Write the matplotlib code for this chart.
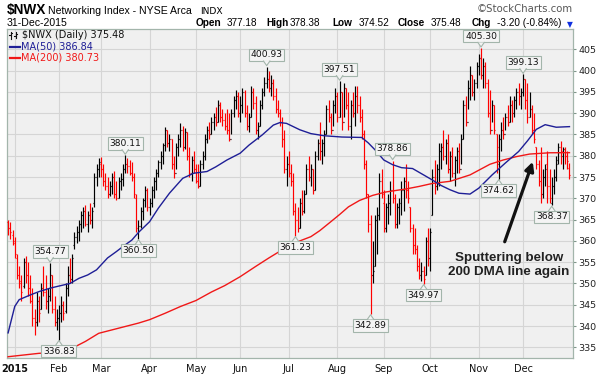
import numpy as np
import matplotlib
matplotlib.use("Agg")
import matplotlib.pyplot as plt
from matplotlib.collections import LineCollection
from matplotlib.lines import Line2D
from matplotlib.patches import Polygon

# ---------------- data (trading-day index, 0 = 2-Jan-2015; -3..-1 = end of Dec 2014) ----------------
opens = (
    [364.5, 363, 361.5]
    + [360, 356, 352, 350.5, 349.5, 355, 352, 349, 346, 342, 341, 346, 344, 349, 348, 346, 347, 352, 344, 341]
    + [342, 343, 345, 343.5, 349, 352, 351, 359, 361, 362, 364, 366, 367, 364, 366, 365, 369, 375, 377]
    + [378, 377, 374, 373, 371, 373, 375, 371, 370, 374, 374.5, 377, 378, 377.5, 376, 375, 370, 363, 363.5, 367, 369.5, 372]
    + [368, 369, 372, 374, 376, 378.5, 380, 382.5, 386, 383, 384, 378, 376, 382, 384, 386, 382, 385.5, 380, 376, 379]
    + [377, 374, 373, 378, 380, 384, 386, 385, 388, 389, 388, 392, 389, 388.5, 387, 386, 384, 390, 393, 394]
    + [390, 392, 395, 390, 387, 389, 395, 392.5, 386, 387, 392, 395, 397, 398, 396, 397, 394, 391, 390, 388, 384, 377]
    + [378, 376, 374, 367, 365, 363, 369, 367, 371, 377, 375, 377, 372, 380, 383, 381, 383, 385, 391, 389, 386, 392]
    + [394, 389, 395, 388, 396, 392, 387, 392, 390, 394, 392, 389, 385, 378, 371, 364, 352, 354, 365, 366, 374]
    + [369, 363, 368, 369, 372, 370, 364, 368, 369, 372, 374, 372, 368, 363, 359, 358, 354, 352, 353, 352, 360]
    + [356, 366, 375, 373, 377, 381, 382, 380, 383, 377, 380, 376, 379, 381, 377, 384, 392, 388, 396, 399, 395, 397]
    + [401, 403, 399, 401, 397, 390, 386, 392, 385, 378, 384, 386, 385, 389, 388, 392, 390, 393, 395, 394]
    + [395, 398, 393, 389, 391, 386, 382, 378, 374, 371, 375, 378, 373, 369, 373, 375, 379, 382, 380, 381.5, 380, 377.18]
)
highs = (
    [365, 364.5, 362.5]
    + [361, 357, 354, 352, 356, 356.5, 355, 352, 349, 344, 348, 347, 350, 354, 352, 349, 354.77, 352, 347, 344]
    + [345, 347, 346, 350, 354, 356, 357, 362, 363.5, 365, 367, 368, 368.5, 367, 369, 368, 376, 378, 379.5]
    + [379.8, 378, 376, 375, 374, 376, 376.5, 374, 375, 376, 378, 380.11, 379.5, 379, 378.5, 376, 371, 365, 368, 370, 373, 372.5]
    + [370, 373, 375, 377, 379, 381, 383, 386.8, 386, 385, 384, 380, 383, 385, 387.6, 387, 386.5, 385.5, 382, 380, 381]
    + [378, 378, 379, 381, 385, 387, 388, 389, 390, 391.5, 393, 392.7, 391, 390, 391, 390, 391, 394, 395.4, 395]
    + [394, 396, 395.5, 392, 390, 396.5, 396, 394, 388, 393, 396, 398.5, 400.93, 400, 399, 398, 396, 393, 391, 389, 386, 380]
    + [381, 378, 376, 369, 368, 370, 372, 372, 378, 380, 378, 377, 381, 384, 388, 384, 386, 392, 393, 390, 393, 396]
    + [395, 397.51, 395, 397, 396, 395, 393, 395, 396.5, 396.5, 394, 391, 386, 379, 371, 366, 360, 366, 368, 376, 377]
    + [372, 369, 371, 374, 378.86, 371, 369, 370, 374, 375, 378, 374, 368, 364, 363, 359, 356, 355, 354, 361, 363]
    + [363, 377, 379, 378, 383, 383, 386, 384, 385, 381, 382, 380, 382, 383, 385, 393, 394, 397.8, 401, 399, 398, 402]
    + [404, 405.30, 403, 402, 398, 395.4, 393, 392, 385, 385, 388, 389, 390, 392, 394, 393, 394, 396, 397, 396]
    + [399.13, 398, 397, 395, 392, 390, 382, 379, 382, 377, 378, 381, 377, 375, 377, 380, 383, 383.5, 382, 382, 381, 378.38]
)
lows = (
    [361.5, 360.5, 359]
    + [356, 351, 349, 346, 349, 350, 347, 345.5, 340, 338, 340, 341, 344, 347, 344, 343, 346, 343, 340, 339]
    + [336.83, 341, 341.5, 343, 347, 350, 350, 358, 359.5, 360, 362, 363, 363.5, 362, 364, 363, 368, 373, 375]
    + [375, 373, 372, 370, 370.5, 371, 370, 369.5, 370, 372, 373, 376, 376, 375.5, 374, 370, 362, 360.50, 363, 365, 368, 367]
    + [366, 368, 370, 372, 375, 377, 378, 381, 382, 381, 377, 374.7, 377, 380, 382, 381, 381.5, 379, 375, 374, 376]
    + [373.5, 372.4, 373, 377, 379, 383, 384, 385, 386, 387, 388, 388, 387, 386, 385, 383.5, 385, 389, 391, 389]
    + [388, 390, 389, 386, 385.5, 389, 391, 385, 384, 387, 391, 394, 396, 395, 394, 393, 390, 389, 387, 382, 376, 373]
    + [375, 373, 366, 361.23, 362, 363, 366, 366.5, 371, 374, 373, 371, 372, 379, 379, 378, 380, 385, 388, 385, 387, 390]
    + [388, 389, 386, 389, 391, 386, 384, 389, 387, 390, 388, 384, 377, 370, 362, 342.89, 350, 354, 357, 365, 370]
    + [362, 362, 364, 366, 369, 363, 363, 364, 366, 367, 370, 369, 362, 357, 357, 353, 351, 350.5, 349.97, 352, 354]
    + [353, 366, 371, 372, 373, 377, 379, 378, 376, 374, 375, 373, 376, 376, 378, 384, 387, 391, 393, 394, 393, 396]
    + [399, 398, 396, 396, 389, 385, 388, 385, 376, 374.62, 381, 384, 386, 387, 388, 388, 389, 391, 392, 391]
    + [394, 391, 387.6, 389, 385, 383, 377, 372.8, 368.8, 370, 373, 369, 369, 368.37, 371, 374, 378, 378, 377, 378, 377, 374.52]
)
closes = (
    [363, 362, 359.5]
    + [357, 352, 350, 348, 355, 352, 349, 346, 342, 341, 346, 343, 349, 348, 346, 347, 352, 344, 341, 342]
    + [343, 345, 343, 349, 352, 351, 356, 361, 362, 364, 366, 367, 364, 366, 365, 367, 375, 377, 378.5]
    + [377, 374, 373, 371, 373, 375, 371, 370, 374, 374.5, 377, 378, 377.5, 376, 375, 371, 363, 363.5, 367, 369.5, 372, 368]
    + [369, 372, 374, 376, 378.5, 380, 382.5, 386, 383, 384, 378, 376, 382, 384, 386, 382, 385.5, 380, 376, 379, 377]
    + [374, 373, 378, 380, 384, 386, 385, 388, 389, 388, 392, 389, 388.5, 387, 386, 384, 390, 393, 394, 390]
    + [392, 395, 390, 387, 389, 395, 392.5, 386, 387, 392, 395, 397, 398, 396, 397, 394, 391, 390, 388, 384, 377, 378]
    + [376, 374, 367, 365, 363, 369, 367, 371, 377, 375, 377, 372, 380, 383, 381, 383, 385, 391, 389, 386, 392, 394]
    + [389, 395, 388, 396, 392, 387, 392, 390, 394, 392, 389, 385, 378, 371, 364, 352, 353, 365, 366, 374, 371]
    + [363, 368, 369, 372, 370, 364, 368, 369, 372, 374, 372, 370, 363, 359, 358, 354, 352, 353, 351, 360, 356]
    + [362, 375, 373, 377, 381, 382, 380, 383, 377, 380, 376, 379, 381, 377, 384, 392, 388, 396, 399, 395, 397, 401]
    + [403, 399, 401, 397, 390, 386, 392, 386, 382, 384, 386, 385, 389, 388, 392, 390, 393, 395, 394, 395]
    + [398, 393, 389, 391, 386, 384, 378, 374, 371, 375, 377, 373, 370, 373, 375, 378, 382, 381, 381.5, 380, 378.68, 375.48]
)

ma50_idx = [-3, 0, 2, 7, 11, 16, 20, 25, 29, 33, 37, 42, 46, 49, 53, 56, 61, 65, 70, 76,
            81, 87, 91, 96, 102, 106, 112, 117, 120, 123, 129, 134, 140, 148, 157, 160, 163, 167, 171, 175,
            180, 184, 189, 193, 197, 201, 206, 210, 216, 222, 228, 232, 236, 240, 245, 251]
ma50_val = [338.4, 344.6, 346.2, 347.3, 348.1, 348.9, 349.4, 350.0, 351.2, 352.0, 353.2, 356.0, 357.5, 358.7,
            360.2, 362.0, 364.5, 367.7, 371.2, 374.7, 375.9, 376.3, 377.4, 379.0, 380.6, 382.5, 384.9, 387.2,
            387.8, 387.6, 386.1, 385.2, 384.7, 384.4, 384.3, 383.0, 381.4, 379.0, 377.9, 377.2, 377.0, 375.8,
            374.3, 373.0, 372.0, 371.2, 371.0, 372.4, 375.5, 378.3, 381.0, 383.5, 386.2, 387.3, 386.7, 386.84]
ma200_idx = [-3, 11, 20, 26, 32, 38, 44, 50, 56, 61, 68, 75, 82, 89, 95, 102, 109, 115, 121, 125,
             129, 134, 138, 143, 147, 151, 156, 162, 168, 177, 183, 189, 197, 206, 215, 221, 227, 233, 242, 251]
ma200_val = [332.8, 333.6, 333.8, 334.8, 336.4, 338.3, 339.1, 339.9, 340.7, 341.5, 343.0, 344.6, 346.0, 348.0,
             349.5, 351.6, 354.0, 356.0, 357.9, 359.0, 360.0, 361.0, 362.4, 364.5, 366.2, 368.0, 369.5, 370.7,
             371.5, 372.2, 372.8, 373.5, 374.0, 375.5, 378.0, 379.0, 379.8, 380.4, 380.7, 380.73]

month_idx = [0, 20, 39, 61, 82, 102, 124, 146, 167, 188, 210, 230]
month_labels = ["2015", "Feb", "Mar", "Apr", "May", "Jun", "Jul", "Aug", "Sep", "Oct", "Nov", "Dec"]
y_ticks = list(range(335, 410, 5))

# highlighted extremes (trading-day index, which end of the bar)
mark_idx = [16, 20, 50, 56, 114, 127, 147, 161, 171, 185, 211, 219, 230, 243]
mark_side = ["high", "low", "high", "low", "high", "low", "high", "low", "high", "low", "high", "low", "high", "low"]

title_sym = "$NWX"
title_name = "Networking Index - NYSE Arca"
title_exch = "INDX"
date_text = "31-Dec-2015"
quote_parts = [("Open", True, 196), ("377.18", False, 227), ("High", True, 266), ("378.38", False, 289.5),
               ("Low", True, 332), ("374.52", False, 358.5), ("Close", True, 398), ("375.48", False, 430.5),
               ("Chg", True, 472), ("-3.20 (-0.84%)", False, 497)]
legend_main = "$NWX (Daily) 375.48"
legend_ma50 = "MA(50) 386.84"
legend_ma200 = "MA(200) 380.73"
note_text = "Sputtering below\n200 DMA line again"

# ---------------- figure ----------------
W, H = 600, 375
fig = plt.figure(figsize=(6, 3.75), dpi=100)
fig.patch.set_facecolor("white")
L_px, R_px, T_px, B_px = 7, 573, 29.3, 358
ax = fig.add_axes([L_px / W, 1 - B_px / H, (R_px - L_px) / W, (B_px - T_px) / H])
ax.set_facecolor("#F0F0F0")
xmin, xmax = -3.5, 252.6
ymin, ymax = 332.5, 409.7
ax.set_xlim(xmin, xmax)
ax.set_ylim(ymin, ymax)

px_x = (R_px - L_px) / (xmax - xmin)   # pixels per trading day
px_y = (B_px - T_px) / (ymax - ymin)   # pixels per price unit

ax.set_yticks(y_ticks)
ax.yaxis.tick_right()
ax.set_xticks(month_idx)
ax.set_xticklabels(month_labels)
ax.grid(True, color="#D5D5D5", lw=0.8, zorder=0)
ax.set_axisbelow(True)
ax.tick_params(axis="x", length=0, pad=4, labelsize=7, labelcolor="#111111")
ax.tick_params(axis="y", direction="out", length=2.5, width=0.8, color="#7F958A",
               pad=1.5, labelsize=6.8, labelcolor="#222222")
for lab in ax.get_xticklabels():
    lab.set_family("DejaVu Sans")
ax.get_xticklabels()[0].set_fontweight("bold")
for sp in ax.spines.values():
    sp.set_color("#A3B5AB")
    sp.set_linewidth(0.9)

n = len(closes)
idx = np.arange(n) - 3

# OHLC bars
segs, cols = [], []
tick = 0.45
for i in range(n):
    prev = closes[i - 1] if i > 0 else opens[i]
    c = "#FF0000" if closes[i] < prev else "#000000"
    x = idx[i]
    segs.append([(x, lows[i]), (x, highs[i])])
    segs.append([(x - tick, opens[i]), (x, opens[i])])
    segs.append([(x, closes[i]), (x + tick, closes[i])])
    cols += [c, c, c]
ax.add_collection(LineCollection(segs, colors=cols, linewidths=0.85, zorder=3))

# moving averages
ax.plot(ma200_idx, ma200_val, color="#F01818", lw=1.0, zorder=4)
ax.plot(ma50_idx, ma50_val, color="#1E1E96", lw=1.0, zorder=4)

# extreme-value labels
box_fc = "#F4F4F4"
box_ec = "#A3B5AB"
for k, side in zip(mark_idx, mark_side):
    i = k + 3
    v = highs[i] if side == "high" else lows[i]
    sgn = 1 if side == "high" else -1
    ax.annotate(f"{v:.2f}", xy=(k, v), xytext=(0, sgn * 5.2), textcoords="offset points",
                ha="center", va="bottom" if sgn > 0 else "top", fontsize=6.6,
                family="DejaVu Sans", color="#111111", zorder=6,
                bbox=dict(boxstyle="square,pad=0.18", fc=box_fc, ec=box_ec, lw=0.8))
    dx = 3.2 / px_x
    y_tip = v + sgn * 1.0 / px_y
    y_base = v + sgn * 5.6 / px_y
    ax.add_patch(Polygon([(k - dx, y_base), (k, y_tip), (k + dx, y_base)], closed=True,
                         fc=box_fc, ec="none", zorder=7))
    ax.add_line(Line2D([k - dx, k, k + dx], [y_base, y_tip, y_base], color=box_ec, lw=0.8, zorder=8))

# note with arrow
ax.annotate("", xy=(234.4, 378.6), xytext=(221.7, 359.8),
            arrowprops=dict(arrowstyle="-|>", color="#111111", lw=2.3, mutation_scale=13,
                            shrinkA=0, shrinkB=0), zorder=9)
ax.text(223.6, 354.4, note_text, ha="center", va="center", multialignment="center",
        fontsize=9.6, fontweight="bold", family="Liberation Sans", color="#222222",
        linespacing=1.2, zorder=9)

# ---------------- header ----------------
def ftext(x, y, s, **kw):
    fig.text(x / W, 1 - y / H, s, parse_math=False, **kw)

ftext(7, 14, title_sym, fontsize=9.8, fontweight="bold", family="Liberation Sans", va="baseline")
ftext(48.5, 14, title_name, fontsize=7.6, family="Liberation Sans", va="baseline")
ftext(200, 14, title_exch, fontsize=6.6, family="DejaVu Sans", va="baseline")
ftext(573, 12.5, "\u00a9StockCharts.com", fontsize=7.3, family="DejaVu Sans", color="#555555",
      ha="right", va="baseline")
ftext(7, 26, date_text, fontsize=7.6, family="Liberation Sans", va="baseline")
for s, bold, x in quote_parts:
    ftext(x, 26, s, fontsize=7.2, family="Liberation Sans", va="baseline",
          fontweight="bold" if bold else "normal")
ftext(570, 24.5, "\u25bc", fontsize=5.5, family="DejaVu Sans", color="#1030E0", ha="center", va="center")

# legend inside the plot
ftext(22, 38.5, legend_main, fontsize=7.0, family="DejaVu Sans", color="#111111", va="baseline")
icon = [((10.5, 10.5), (32, 38.5)), ((9, 10.5), (34.5, 34.5)), ((10.5, 12), (33, 33)),
        ((15.5, 15.5), (31.5, 37.5)), ((14, 15.5), (36, 36)), ((15.5, 17), (33.5, 33.5))]
for xs, ys in icon:
    fig.add_artist(Line2D([x / W for x in xs], [1 - y / H for y in ys], color="#111111", lw=0.8,
                          transform=fig.transFigure))
fig.add_artist(Line2D([9.5 / W, 19.5 / W], [1 - 46.5 / H, 1 - 46.5 / H], color="#1E1E96", lw=1.6,
                      transform=fig.transFigure))
ftext(21, 49.5, legend_ma50, fontsize=7.0, family="DejaVu Sans", color="#1E1E96", va="baseline")
fig.add_artist(Line2D([9.5 / W, 19.5 / W], [1 - 57.5 / H, 1 - 57.5 / H], color="#F01818", lw=1.6,
                      transform=fig.transFigure))
ftext(21, 60.5, legend_ma200, fontsize=7.0, family="DejaVu Sans", color="#F01818", va="baseline")

fig.savefig("out.png", dpi=100)
